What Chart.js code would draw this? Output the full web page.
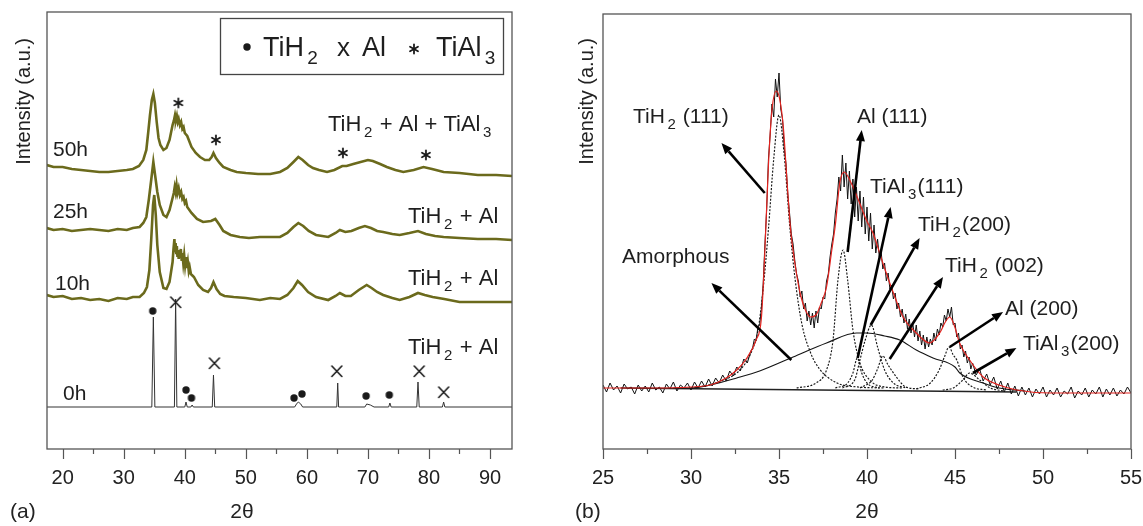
<!DOCTYPE html>
<html>
<head>
<meta charset="utf-8">
<script src="https://cdn.jsdelivr.net/npm/chart.js@4.4.1/dist/chart.umd.min.js"></script>
<style>
  html, body { margin: 0; padding: 0; background: #fff; }
  #wrap { position: relative; width: 1143px; height: 526px; }
  canvas { position: absolute; top: 0; }
  #left { left: 0; }
  #right { left: 571px; }
</style>
</head>
<body>
<div id="wrap">
  <canvas id="left" width="571" height="526"></canvas>
  <canvas id="right" width="572" height="526"></canvas>
</div>
<script>
// ── Data: panel (a), XRD patterns vs milling time (2θ, intensity a.u.) ──

const leftTicks = [20, 30, 40, 50, 60, 70, 80, 90];
const rightTicks = [25, 30, 35, 40, 45, 50, 55];

const pattern0h = [
  [17.4,42],[34.6,42],[34.85,132],[35.1,42],[38.3,42],[38.5,150],[38.7,42],[40.0,42],[40.2,47],[40.4,42],
  [41.0,42],[41.2,44],[41.4,42],[44.5,42],[44.7,74],[44.9,42],[58.0,42],[58.3,45],[58.6,47],[59.0,45],
  [59.3,42],[64.9,42],[65.05,66],[65.2,42],[69.5,42],[69.8,45],[70.4,44],[71.0,42],[73.4,42],[73.6,46],
  [73.8,42],[78.0,42],[78.2,67],[78.4,42],[82.2,42],[82.4,47],[82.6,42],[93.6,42]
];

const pattern10h = [
  [17.4,154],[18.5,152],[20,153],[21.5,150],[23,151],[24.5,149],[26,150],[27.5,148],[29,151],[30.5,150],
  [31.5,152],[32.6,152],[33.3,156],[33.8,162],[34.2,179],[34.5,209],[34.8,244],[35.0,254],[35.25,234],
  [35.5,204],[35.9,177],[36.5,161],[37.0,160],[37.5,167],[38.0,187],[38.15,200],[38.3,210],[38.4,198],
  [38.5,206],[38.6,196],[38.7,203],[38.8,192],[38.9,199],[39.0,190],[39.1,197],[39.2,191],[39.35,200],
  [39.5,188],[39.6,196],[39.75,186],[39.9,194],[40.05,184],[40.2,192],[40.35,181],[40.5,187],[40.65,178],
  [40.8,182],[41.0,175],[41.5,172],[42.2,164],[43.0,159],[43.8,157],[44.3,161],[44.7,167],[45.2,160],
  [45.8,155],[46.5,153],[48,152],[50,151],[52.3,149],[54,151],[55.6,150],[56.8,154],[57.8,161],[58.5,168],
  [59.2,164],[60.2,157],[61.5,152],[63.5,149],[64.7,153],[65.4,156],[66.3,153],[67.2,153],[68.5,159],
  [69.8,164],[70.6,161],[71.5,157],[72.5,154],[74,151],[75.2,149],[76.8,152],[78.2,156],[79.3,154],
  [80.6,152],[82.5,150],[85,147],[88,147],[91,147],[93.6,147]
];

const pattern25h = [
  [17.4,221],[18.5,219],[20,220],[21.5,218],[23,219],[24.5,220],[26,219],[27.5,218],[29,220],[30.5,219],
  [31.5,221],[32.6,222],[33.2,226],[33.7,232],[34.1,249],[34.5,269],[34.85,287],[35.2,271],[35.5,257],
  [35.9,244],[36.5,234],[37.0,232],[37.5,239],[38.0,251],[38.2,256],[38.35,262],[38.5,257],[38.65,264],
  [38.8,256],[39.0,261],[39.2,254],[39.4,257],[39.6,250],[39.8,252],[40.0,246],[40.2,248],[40.4,242],
  [41.1,236],[42,230],[43,227],[44.3,228],[45.0,230],[45.7,224],[46.3,218],[47.5,214],[49,212],[50.5,211],
  [52.3,212],[54,212],[55.6,212],[56.8,216],[57.8,222],[58.6,226],[59.4,223],[60.3,218],[61.5,214],
  [63.5,212],[64.7,216],[65.4,219],[66.3,217],[67.3,218],[68.5,221],[69.5,223],[70.5,221],[71.5,218],
  [72.5,217],[74,215],[75.2,214],[76.8,216],[78.2,218],[79.5,215],[81,213],[82.4,212],[85,211],[88,210],
  [91,210],[93.6,209]
];

const pattern50h = [
  [17.4,284],[18.5,282],[20,282],[21.5,280],[23,279],[24.5,278],[26,277],[27.5,277],[29,278],[30.5,279],
  [31.5,280],[32.5,283],[33.2,289],[33.7,299],[34.0,316],[34.3,334],[34.6,349],[34.85,355],[35.1,346],
  [35.4,327],[35.7,311],[36.0,304],[36.5,299],[37.0,301],[37.5,309],[38.0,324],[38.2,328],[38.4,334],
  [38.55,329],[38.7,333],[38.85,327],[39.0,330],[39.2,324],[39.4,327],[39.6,320],[39.8,322],[40.0,316],
  [40.4,313],[41.1,302],[41.8,296],[42.5,292],[43.3,289],[44.0,289],[44.4,292],[44.7,296],[45.1,291],
  [45.7,286],[46.3,282],[47.5,279],[48.5,277],[50,276],[52,275],[54,275],[55.6,277],[56.8,281],[57.8,287],
  [58.6,292],[59.3,289],[60.2,284],[61,281],[62,279],[63.3,277],[64.5,279],[65.8,283],[66.5,283],
  [67.6,285],[68.8,287],[70.0,289],[70.8,288],[72,285],[73.1,282],[74.5,279],[75.8,277],[77.5,279],
  [79.1,282],[80.5,280],[82.4,277],[85,276],[88,274],[91,274],[93.6,273]
];

// phase markers
const tih2Marks0h = [[34.75,138],[40.2,59],[41.1,51],[57.9,51],[59.2,55],[69.7,53],[73.5,54]];
const alMarks0h = [[38.5,147],[44.85,86],[64.9,78],[78.4,78],[82.4,57]];
const tial3Marks50h = [[38.95,346],[45.1,309],[65.9,296],[79.5,294]];

// ── Data: panel (b), peak deconvolution of the 50h pattern ──

const measured = [
  [25.0,64],[25.2,57],[25.4,66],[25.6,59],[25.8,63],[26.0,56],[26.2,65],[26.4,60],[26.6,62],[26.8,55],
  [27.0,64],[27.2,58],[27.4,63],[27.6,57],[27.8,66],[28.0,59],[28.2,62],[28.4,56],[28.6,65],[28.8,60],
  [29.0,67],[29.2,58],[29.4,64],[29.6,61],[29.8,66],[30.0,59],[30.2,67],[30.4,61],[30.6,68],[30.8,62],
  [31.0,70],[31.2,63],[31.4,71],[31.6,66],[31.8,74],[32.0,68],[32.2,78],[32.4,73],[32.6,82],[32.8,78],
  [33.0,90],[33.2,86],[33.4,98],[33.5,101],[33.6,110],[33.7,108],[33.8,122],[33.9,124],[34.0,140],
  [34.1,165],[34.2,205],[34.3,240],[34.4,290],[34.5,315],[34.6,345],[34.7,332],[34.8,370],[34.9,352],
  [35.0,376],[35.1,340],[35.2,330],[35.3,300],[35.4,285],[35.5,255],[35.6,236],[35.7,215],[35.8,205],
  [35.9,188],[36.0,175],[36.1,168],[36.2,152],[36.3,158],[36.4,140],[36.5,146],[36.6,128],[36.7,138],
  [36.8,124],[36.9,136],[37.0,121],[37.1,138],[37.2,126],[37.3,142],[37.4,140],[37.5,152],[37.6,150],
  [37.7,168],[37.8,175],[37.9,192],[38.0,205],[38.1,215],[38.2,236],[38.3,250],[38.4,272],[38.5,258],
  [38.6,294],[38.7,262],[38.8,286],[38.9,250],[39.0,278],[39.1,245],[39.2,270],[39.3,232],[39.4,262],
  [39.5,228],[39.6,258],[39.7,222],[39.8,252],[39.9,215],[40.0,242],[40.1,208],[40.2,236],[40.3,200],
  [40.4,224],[40.5,196],[40.6,210],[40.7,192],[40.8,198],[40.9,180],[41.0,186],[41.1,168],[41.2,176],
  [41.3,160],[41.4,164],[41.5,150],[41.6,156],[41.7,140],[41.8,146],[41.9,132],[42.0,140],[42.1,126],
  [42.2,135],[42.3,120],[42.4,130],[42.5,116],[42.6,126],[42.7,112],[42.8,124],[42.9,108],[43.0,118],
  [43.1,104],[43.2,114],[43.3,100],[43.4,112],[43.5,102],[43.6,110],[43.7,104],[43.8,116],[43.9,108],
  [44.0,120],[44.1,114],[44.2,126],[44.3,122],[44.4,134],[44.5,128],[44.6,140],[44.7,132],[44.8,142],
  [44.9,124],[45.0,126],[45.1,112],[45.2,116],[45.3,100],[45.4,104],[45.5,92],[45.6,98],[45.7,86],
  [45.8,92],[45.9,80],[46.0,86],[46.2,74],[46.4,80],[46.6,68],[46.8,75],[47.0,64],[47.2,72],[47.4,60],
  [47.6,68],[47.8,57],[48.0,66],[48.2,55],[48.4,63],[48.6,53],[48.8,62],[49.0,54],[49.2,61],[49.4,52],
  [49.6,60],[49.8,55],[50.0,62],[50.2,52],[50.4,59],[50.6,54],[50.8,61],[51.0,52],[51.2,58],[51.4,55],
  [51.6,62],[51.8,51],[52.0,58],[52.2,54],[52.4,61],[52.6,52],[52.8,59],[53.0,55],[53.2,62],[53.4,52],
  [53.6,60],[53.8,54],[54.0,61],[54.2,53],[54.4,59],[54.6,55],[54.8,62],[55.0,56]
];

const fitCurve = [
  [25,61],[28,61],[30,62],[31.1,64],[32.0,71],[32.6,79],[33.1,89],[33.7,109],[34.0,131],[34.2,199],
  [34.4,284],[34.6,339],[34.85,358],[35.05,349],[35.25,321],[35.45,269],[35.65,221],[35.9,186],[36.2,156],
  [36.5,139],[36.8,132],[37.1,134],[37.4,146],[37.7,162],[38.0,199],[38.2,224],[38.45,266],[38.7,277],
  [39.1,266],[39.58,246],[39.96,229],[40.34,216],[40.9,186],[41.5,156],[42.05,132],[42.8,116],[43.56,106],
  [44.13,116],[44.45,127],[44.7,132],[44.95,124],[45.26,106],[45.83,89],[46.6,72],[47.5,64],[48.5,59],
  [50.4,56],[55,56]
];

const compTiH2_111 = [
  [30,61],[31,64],[32,70],[32.6,76],[33.1,86],[33.5,100],[33.8,118],[34.1,160],[34.4,220],[34.7,290],
  [35.0,334],[35.3,293],[35.6,225],[35.9,172],[36.3,125],[36.8,96],[37.3,80],[38.3,66],[39.5,62],[41,61]
];
const compAl_111 = [
  [36,61],[37.1,66],[37.7,79],[38.07,109],[38.35,169],[38.64,199],[38.9,169],[39.2,119],[39.6,86],
  [40.15,69],[41.0,62],[42,61]
];
const compTiAl3_111 = [[38.2,61],[38.9,66],[39.2,76],[39.45,91],[39.7,76],[40.0,66],[40.7,61]];
const compTiH2_200 = [[38.6,61],[39.3,69],[39.6,89],[39.9,109],[40.25,124],[40.6,102],[41.0,79],[41.5,66],[42.2,61]];
const compTiH2_002 = [[39.6,61],[40.3,69],[40.6,80],[40.9,93],[41.2,84],[41.67,72],[42.2,62],[43,60]];
const compAl_200 = [[42.8,60],[43.6,66],[44.1,79],[44.4,92],[44.66,102],[44.9,94],[45.1,89],[45.45,72],[46.0,62],[46.8,59]];
const compTiAl3_200 = [[44.3,59],[44.9,61],[45.45,69],[45.83,76],[46.4,69],[47.0,61],[47.8,58]];
const compAmorphous = [
  [29,61],[30,61],[31.1,64],[32.6,71],[33.9,78],[35.8,92],[37.7,106],[39.4,116],[40.0,116],[41.0,113],
  [41.86,109],[42.8,99],[43.75,91],[45.0,82],[45.27,76],[46.6,66],[47.5,61],[49,58]
];
const baselineFit = [[26,61],[48.5,57]];

// ── Styling helpers ──

const FONT = '"Liberation Sans", Arial, sans-serif';
const OLIVE = '#6b6a1c';
const INK = '#1a1a1a';

const pts = arr => arr.map(([x, y]) => ({ x, y }));

function glyph(kind) {
  const c = document.createElement('canvas');
  c.width = c.height = 14;
  const g = c.getContext('2d');
  g.strokeStyle = g.fillStyle = INK;
  g.lineCap = 'round';
  if (kind === 'dot') {
    g.beginPath(); g.arc(7, 7, 3.7, 0, Math.PI * 2); g.fill();
  } else if (kind === 'x') {
    g.lineWidth = 1.6;
    g.beginPath(); g.moveTo(2, 2); g.lineTo(12, 12.5); g.moveTo(12, 2); g.lineTo(2, 12.5); g.stroke();
  } else if (kind === 'star') {
    g.lineWidth = 1.8;
    for (const a of [90, 30, 150]) {
      const r = a * Math.PI / 180, dx = Math.cos(r) * 4.6, dy = Math.sin(r) * 4.6;
      g.beginPath(); g.moveTo(7 - dx, 7 - dy); g.lineTo(7 + dx, 7 + dy); g.stroke();
    }
  }
  return c;
}

function richText(ctx, x, y, parts, size) {
  let cx = x;
  ctx.textBaseline = 'alphabetic';
  ctx.textAlign = 'left';
  for (const p of parts) {
    if (typeof p === 'string') {
      ctx.font = `${size}px ${FONT}`;
      ctx.fillText(p, cx, y);
      cx += ctx.measureText(p).width;
    } else {
      cx += size * 0.12;
      ctx.font = `${Math.round(size * 0.7)}px ${FONT}`;
      ctx.fillText(p.sub, cx, y + size * 0.28);
      cx += ctx.measureText(p.sub).width + size * 0.06;
    }
  }
}

function frameAndTicks(chart, step) {
  const { ctx, chartArea: a, scales: { x } } = chart;
  ctx.save();
  ctx.strokeStyle = '#555';
  ctx.lineWidth = 1.3;
  ctx.strokeRect(a.left, a.top, a.right - a.left, a.bottom - a.top);
  ctx.lineWidth = 1.2;
  ctx.beginPath();
  for (let v = Math.ceil(x.min / step) * step; v <= x.max + 1e-6; v += step) {
    const px = Math.round(x.getPixelForValue(v)) + 0.5;
    const major = Math.abs(v / (step * 2) - Math.round(v / (step * 2))) < 1e-6;
    ctx.moveTo(px, a.bottom);
    ctx.lineTo(px, a.bottom + (major ? 10 : 5));
  }
  ctx.stroke();
  ctx.restore();
}

function axisTitles(ctx, yTitleX, xTitleX, panel, panelX) {
  ctx.save();
  ctx.fillStyle = '#222';
  ctx.font = `20px ${FONT}`;
  ctx.translate(yTitleX, 38);
  ctx.rotate(-Math.PI / 2);
  ctx.textAlign = 'right';
  ctx.textBaseline = 'middle';
  ctx.fillText('Intensity (a.u.)', 0, 0);
  ctx.restore();
  ctx.save();
  ctx.fillStyle = '#222';
  ctx.font = `21px ${FONT}`;
  ctx.textBaseline = 'alphabetic';
  ctx.textAlign = 'center';
  ctx.fillText('2\u03B8', xTitleX, 518);
  ctx.textAlign = 'left';
  ctx.fillText(panel, panelX, 518);
  ctx.restore();
}

function arrow(ctx, x1, y1, x2, y2) {
  const ang = Math.atan2(y2 - y1, x2 - x1);
  const hl = 11, hw = 4.5;
  const bx = x2 - Math.cos(ang) * hl, by = y2 - Math.sin(ang) * hl;
  ctx.beginPath();
  ctx.moveTo(x1, y1);
  ctx.lineTo(bx, by);
  ctx.stroke();
  ctx.beginPath();
  ctx.moveTo(x2, y2);
  ctx.lineTo(bx + Math.sin(ang) * hw, by - Math.cos(ang) * hw);
  ctx.lineTo(bx - Math.sin(ang) * hw, by + Math.cos(ang) * hw);
  ctx.closePath();
  ctx.fill();
}

function baseScales(xMin, xMax, ticks, yMax, yWidth) {
  return {
    x: {
      type: 'linear', min: xMin, max: xMax,
      afterBuildTicks: s => { s.ticks = ticks.map(v => ({ value: v })); },
      afterFit: s => { s.height = 77; s.paddingLeft = 0; s.paddingRight = 0; },
      ticks: { font: { size: 20, family: FONT }, color: '#222', padding: 17, maxRotation: 0, autoSkip: false },
      grid: { display: false, drawTicks: false },
      border: { display: false },
    },
    y: {
      type: 'linear', min: 0, max: yMax,
      afterFit: s => { s.width = yWidth; },
      ticks: { display: false },
      grid: { display: false, drawTicks: false },
      border: { display: false },
    },
  };
}

const COMMON = {
  responsive: false,
  animation: false,
  events: [],
  plugins: { legend: { display: false }, tooltip: { enabled: false } },
};

// ── Panel (a) ──

const leftDecor = {
  id: 'leftDecor',
  afterDraw(chart) {
    const ctx = chart.ctx;
    frameAndTicks(chart, 5);
    ctx.save();
    ctx.fillStyle = '#1e1e1e';
    ctx.font = `21px ${FONT}`;
    ctx.textBaseline = 'alphabetic';
    ctx.fillText('50h', 53, 156);
    ctx.fillText('25h', 53, 218);
    ctx.fillText('10h', 55, 290);
    ctx.fillText('0h', 63, 400);
    richText(ctx, 328, 131, ['TiH', { sub: '2' }, ' + Al + TiAl', { sub: '3' }], 22);
    richText(ctx, 408, 223, ['TiH', { sub: '2' }, ' + Al'], 22);
    richText(ctx, 408, 285, ['TiH', { sub: '2' }, ' + Al'], 22);
    richText(ctx, 408, 354, ['TiH', { sub: '2' }, ' + Al'], 22);

    // legend box
    ctx.strokeStyle = '#444';
    ctx.lineWidth = 1.3;
    ctx.strokeRect(220.5, 18.5, 283, 56);
    ctx.drawImage(glyph('dot'), 240, 40);
    richText(ctx, 263, 56, ['TiH', { sub: '2' }], 27);
    ctx.font = `26px ${FONT}`;
    ctx.fillText('x', 337, 56);
    ctx.font = `27px ${FONT}`;
    ctx.fillText('Al', 362, 56);
    ctx.drawImage(glyph('star'), 407, 42);
    richText(ctx, 436, 56, ['TiAl', { sub: '3' }], 27);
    ctx.restore();
    axisTitles(ctx, 24, 242, '(a)', 10);
  },
};

const lineDs = (data, color, width) => ({
  data: pts(data), borderColor: color, borderWidth: width,
  pointRadius: 0, tension: 0, fill: false,
});
const markDs = (data, kind) => ({
  data: pts(data), showLine: false, pointStyle: glyph(kind), pointRadius: 7,
});

new Chart(document.getElementById('left'), {
  type: 'line',
  data: {
    datasets: [
      markDs(tih2Marks0h, 'dot'),
      markDs(alMarks0h, 'x'),
      markDs(tial3Marks50h, 'star'),
      lineDs(pattern0h, '#333', 1),
      lineDs(pattern10h, OLIVE, 2.6),
      lineDs(pattern25h, OLIVE, 2.6),
      lineDs(pattern50h, OLIVE, 2.6),
    ],
  },
  options: {
    ...COMMON,
    layout: { padding: { top: 12, right: 59, left: 0, bottom: 0 } },
    scales: baseScales(17.43, 93.6, leftTicks, 437, 47),
  },
  plugins: [leftDecor],
});

// ── Panel (b) ──

const rightDecor = {
  id: 'rightDecor',
  afterDraw(chart) {
    const { ctx, scales: { x, y } } = chart;
    frameAndTicks(chart, 2.5);
    ctx.save();
    ctx.strokeStyle = '#000';
    ctx.fillStyle = '#000';
    ctx.lineWidth = 2.6;
    const arrows = [
      [34.19, 256, 31.73, 306], [35.70, 89, 31.16, 166], [38.90, 197, 39.70, 319],
      [39.47, 91, 41.34, 242], [40.21, 124, 42.99, 211], [41.29, 90, 44.32, 172],
      [44.70, 102, 47.73, 137], [46.02, 76, 48.49, 101],
    ];
    for (const [a, b, c, d] of arrows) {
      arrow(ctx, x.getPixelForValue(a), y.getPixelForValue(b), x.getPixelForValue(c), y.getPixelForValue(d));
    }
    ctx.fillStyle = '#1e1e1e';
    richText(ctx, 62, 123, ['TiH', { sub: '2' }, ' (111)'], 21);
    richText(ctx, 286, 123, ['Al (111)'], 21);
    richText(ctx, 299, 193, ['TiAl', { sub: '3' }, '(111)'], 21);
    richText(ctx, 347, 231, ['TiH', { sub: '2' }, '(200)'], 21);
    richText(ctx, 374, 272, ['TiH', { sub: '2' }, ' (002)'], 21);
    richText(ctx, 434, 315, ['Al (200)'], 21);
    richText(ctx, 452, 350, ['TiAl', { sub: '3' }, '(200)'], 21);
    richText(ctx, 51, 263, ['Amorphous'], 21);
    ctx.restore();
    axisTitles(ctx, 16, 296, '(b)', 4);
  },
};

const compDs = (data, dashed) => ({
  data: pts(data), borderColor: '#151515', borderWidth: 1.15,
  borderDash: dashed ? [2, 1.5] : [], pointRadius: 0,
  cubicInterpolationMode: 'monotone', fill: false,
});

new Chart(document.getElementById('right'), {
  type: 'line',
  data: {
    datasets: [
      { data: pts(fitCurve), borderColor: '#e3231f', borderWidth: 1.2, pointRadius: 0, cubicInterpolationMode: 'monotone' },
      { data: pts(measured), borderColor: '#111', borderWidth: 1, pointRadius: 0, tension: 0 },
      compDs(compTiH2_111, true),
      compDs(compAl_111, true),
      compDs(compTiAl3_111, true),
      compDs(compTiH2_200, true),
      compDs(compTiH2_002, true),
      compDs(compAl_200, true),
      compDs(compTiAl3_200, true),
      compDs(compAmorphous, false),
      { data: pts(baselineFit), borderColor: '#222', borderWidth: 1.4, pointRadius: 0 },
    ],
  },
  options: {
    ...COMMON,
    layout: { padding: { top: 14, right: 12, left: 0, bottom: 0 } },
    scales: baseScales(25, 55, rightTicks, 435, 32),
  },
  plugins: [rightDecor],
});
</script>
</body>
</html>
